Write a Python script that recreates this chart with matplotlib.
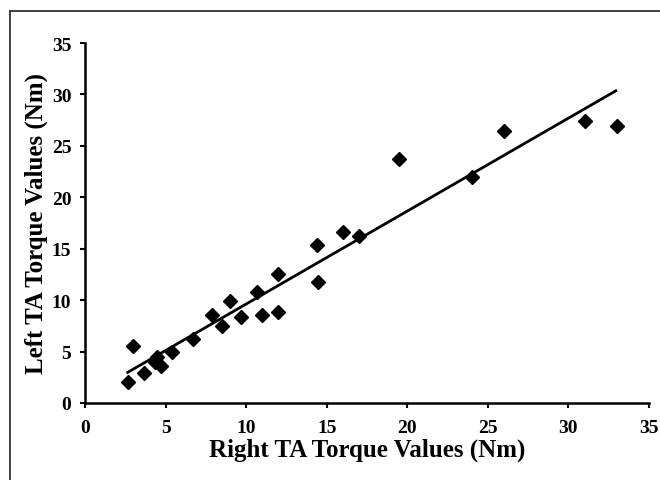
import numpy as np
import matplotlib
matplotlib.use('Agg')
import matplotlib.pyplot as plt
from matplotlib.lines import Line2D

# Right vs left TA torque (Nm)
right_ta = [2.65, 3.0, 3.66, 4.35, 4.45, 4.7, 5.38, 6.68, 7.86, 8.48, 9.0, 9.7,
            10.66, 11.0, 12.0, 12.0, 14.38, 14.48, 16.0, 17.0, 19.5, 24.0,
            26.0, 31.0, 33.0]
left_ta = [2.07, 5.57, 2.92, 4.0, 4.5, 3.6, 4.93, 6.22, 8.55, 7.45, 9.94, 8.33,
           10.75, 8.55, 12.54, 8.87, 15.35, 11.79, 16.59, 16.2, 23.7, 22.0,
           26.4, 27.38, 26.95]
# trend line as drawn (ends)
trend_x = [2.65, 32.94]
trend_y = [2.98, 30.35]

plt.rcParams['font.family'] = ['Liberation Serif', 'DejaVu Serif']
plt.rcParams['font.weight'] = 'bold'

fig = plt.figure(figsize=(6.6, 4.81), dpi=100)
ax = fig.add_axes([85/660, 1-404/481, (649-85)/660, (404-44)/481])

ax.plot(trend_x, trend_y, color='black', lw=2.0, zorder=2)
ax.plot(right_ta, left_ta, linestyle='none', marker='D', markersize=7,
        color='black', zorder=3)

ax.set_xlim(0, 35)
ax.set_ylim(0, 35)
ax.set_xticks(range(0, 36, 5))
ax.set_yticks(range(0, 36, 5))
for s in ['top', 'right']:
    ax.spines[s].set_visible(False)
for s in ['left', 'bottom']:
    ax.spines[s].set_linewidth(1.8)
ax.tick_params(direction='out', length=3.8, width=1.5, labelsize=14)
ax.tick_params(axis='x', pad=7.5)
ax.tick_params(axis='y', pad=6)
for lab in ax.get_xticklabels() + ax.get_yticklabels():
    lab.set_fontweight('bold')

ax.set_xlabel('Right TA Torque Values (Nm)', fontsize=18, fontweight='bold', labelpad=1)
ax.set_ylabel('Left TA Torque Values (Nm)', fontsize=18, fontweight='bold', labelpad=3)

# frame round the figure (top and left visible)
x0, y0 = 10/660, 1-12/481
fig.add_artist(Line2D([x0, 1], [y0, y0], color='#222222', lw=1.2, transform=fig.transFigure))
fig.add_artist(Line2D([x0, x0], [0, y0], color='#222222', lw=1.2, transform=fig.transFigure))

fig.savefig('out.png', dpi=100)
